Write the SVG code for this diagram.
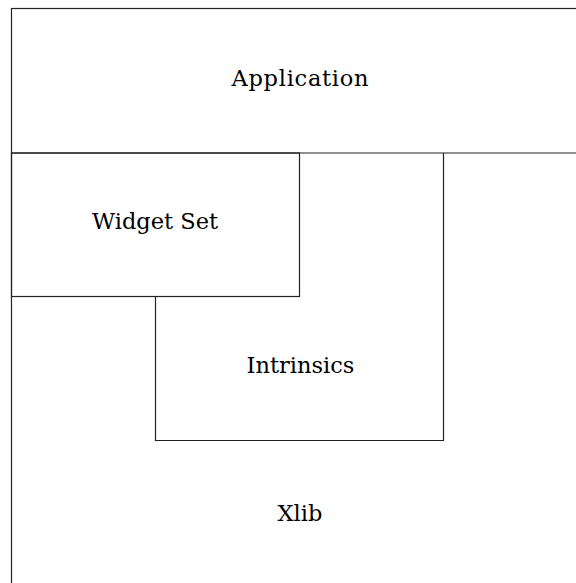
<svg xmlns="http://www.w3.org/2000/svg" width="576" height="583" viewBox="0 0 576 583">
<style>
.box{fill:none;stroke:#222;stroke-width:1.2}
.lbl{font-family:"DejaVu Serif","Liberation Serif",serif;font-size:22.5px;fill:#000;text-anchor:middle}
</style>
<rect width="576" height="583" fill="#fff"/>
<g id="xlib">
<rect class="box" x="11.5" y="8.5" width="600" height="600"/>
<text class="lbl" x="300" y="521">Xlib</text>
</g>
<g id="application">
<line class="box" x1="11.5" y1="153" x2="576" y2="153"/>
<text class="lbl" x="300" y="86" textLength="137" lengthAdjust="spacing">Application</text>
</g>
<g id="intrinsics">
<polyline class="box" points="155.5,296.5 155.5,440.5 443.5,440.5 443.5,153"/>
<text class="lbl" x="300.5" y="373">Intrinsics</text>
</g>
<g id="widgetset">
<rect class="box" x="11.5" y="153" width="288" height="143.5"/>
<text class="lbl" x="155" y="229">Widget Set</text>
</g>
<g id="connectors"/>
</svg>
